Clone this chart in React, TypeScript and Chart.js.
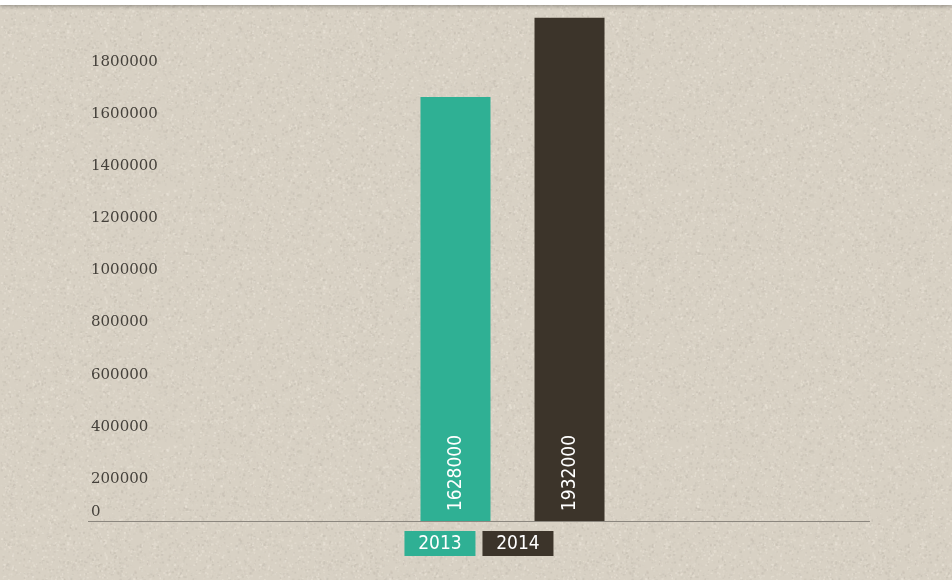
import React, { useEffect, useRef } from "react";
import { Chart, registerables } from "chart.js";

Chart.register(...registerables);

const categories = [""];
const seriesLabels = ["2013", "2014"];
const values2013 = [1628000];
const values2014 = [1932000];
const seriesColors = ["#2fb094", "#3c342a"];
const yTicks = [0, 200000, 400000, 600000, 800000, 1000000, 1200000, 1400000, 1600000, 1800000];

const BG = "#d8d1c4";
const CONDENSED = "'DejaVu Sans Condensed', 'Liberation Sans Narrow', 'DejaVu Sans', sans-serif";

function makeTexture(): HTMLCanvasElement {
  const c = document.createElement("canvas");
  c.width = 256;
  c.height = 256;
  const ctx = c.getContext("2d")!;
  ctx.fillStyle = BG;
  ctx.fillRect(0, 0, 256, 256);
  let s = 12345;
  const rnd = () => {
    s = (s * 1103515245 + 12345) & 0x7fffffff;
    return s / 0x7fffffff;
  };
  for (let i = 0; i < 9000; i++) {
    const x = rnd() * 256;
    const y = rnd() * 256;
    const d = (rnd() - 0.5) * 40;
    const r = Math.max(0, Math.min(255, 216 + d));
    const g = Math.max(0, Math.min(255, 209 + d));
    const b = Math.max(0, Math.min(255, 197 + d));
    ctx.fillStyle = `rgba(${r | 0},${g | 0},${b | 0},0.6)`;
    ctx.fillRect(x, y, 1 + rnd() * 1.5, 1 + rnd() * 1.5);
  }
  return c;
}

const backgroundPlugin = {
  id: "paperBg",
  beforeDraw(chart: any) {
    const ctx = chart.ctx;
    ctx.save();
    const pat = ctx.createPattern(makeTexture(), "repeat");
    ctx.fillStyle = pat || BG;
    ctx.fillRect(0, 0, chart.width, chart.height);
    ctx.restore();
  },
};

const decorPlugin = {
  id: "decor",
  afterDatasetsDraw(chart: any) {
    const ctx = chart.ctx;
    const y = chart.scales.y;
    const area = chart.chartArea;
    const base = y.getPixelForValue(0);
    ctx.save();
    // y tick labels
    ctx.font = "15px 'DejaVu Serif', serif";
    ctx.fillStyle = "#45413b";
    ctx.textAlign = "left";
    ctx.textBaseline = "middle";
    yTicks.forEach((v) => {
      const py = y.getPixelForValue(v);
      const ty = v === 0 ? py - 9 : py + 10;
      ctx.fillText(String(v), area.left + 3, ty);
    });
    // baseline
    ctx.strokeStyle = "#8c877f";
    ctx.lineWidth = 1;
    ctx.beginPath();
    ctx.moveTo(area.left, Math.round(base) + 0.5);
    ctx.lineTo(area.left + (area.right - area.left) * 0.921, Math.round(base) + 0.5);
    ctx.stroke();
    // value labels inside bars
    ctx.font = `19px ${CONDENSED}`;
    ctx.fillStyle = "#ffffff";
    chart.data.datasets.forEach((ds: any, i: number) => {
      const meta = chart.getDatasetMeta(i);
      meta.data.forEach((bar: any, j: number) => {
        ctx.save();
        ctx.translate(bar.x, base - 10);
        ctx.rotate(-Math.PI / 2);
        ctx.textAlign = "left";
        ctx.textBaseline = "middle";
        ctx.fillText(String(ds.data[j]), 0, 1);
        ctx.restore();
      });
    });
    // legend boxes
    const boxW = 71;
    const boxH = 25;
    const gap = 7;
    const n = chart.data.datasets.length;
    const total = n * boxW + (n - 1) * gap;
    const cx = area.left + (area.right - area.left) * 0.921 / 2;
    let lx = cx - total / 2;
    const ly = base + 10;
    chart.data.datasets.forEach((ds: any) => {
      ctx.fillStyle = ds.backgroundColor;
      ctx.fillRect(lx, ly, boxW, boxH);
      ctx.fillStyle = "#ffffff";
      ctx.font = `19px ${CONDENSED}`;
      ctx.textAlign = "center";
      ctx.textBaseline = "middle";
      ctx.fillText(ds.label, lx + boxW / 2, ly + boxH / 2 + 1);
      lx += boxW + gap;
    });
    ctx.restore();
  },
};

export default function App() {
  const ref = useRef<HTMLCanvasElement>(null);
  useEffect(() => {
    document.body.style.margin = "0";
    const chart = new Chart(ref.current!, {
      type: "bar",
      data: {
        labels: categories,
        datasets: [
          { label: seriesLabels[0], data: values2013, backgroundColor: seriesColors[0] },
          { label: seriesLabels[1], data: values2014, backgroundColor: seriesColors[1] },
        ],
      },
      options: {
        animation: false,
        responsive: false,
        maintainAspectRatio: false,
        layout: { padding: { left: 88, right: 15, top: 0, bottom: 59 } },
        datasets: { bar: { categoryPercentage: 0.2686, barPercentage: 0.614 } } as any,
        plugins: { legend: { display: false }, tooltip: { enabled: false }, title: { display: false } },
        scales: {
          x: { display: false },
          y: { display: false, min: 0, max: 2000000 },
        },
      },
      plugins: [backgroundPlugin, decorPlugin],
    });
    return () => chart.destroy();
  }, []);
  return (
    <div style={{ position: "relative", width: 952, height: 580, overflow: "hidden" }}>
      <canvas ref={ref} width={952} height={580} style={{ display: "block" }} />
      <div
        style={{
          position: "absolute",
          left: 0,
          top: 0,
          width: 952,
          height: 5,
          background: "#ffffff",
          boxShadow: "0 1px 4px rgba(0,0,0,0.35)",
        }}
      />
    </div>
  );
}
